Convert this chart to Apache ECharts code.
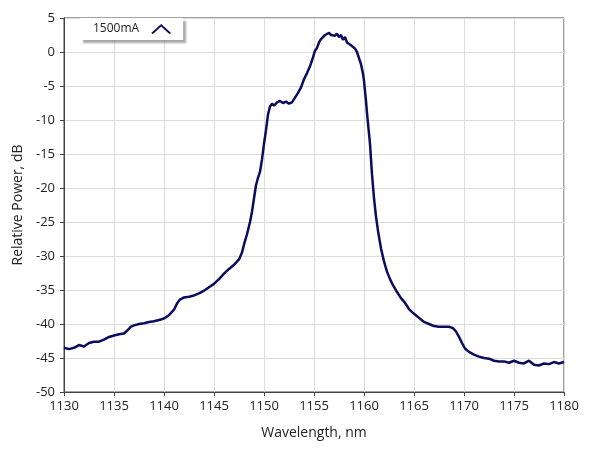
<!DOCTYPE html>
<html>
<head>
<meta charset="utf-8">
<script src="https://cdn.jsdelivr.net/npm/echarts@6/dist/echarts.min.js"></script>
<style>
html,body{margin:0;padding:0;background:#fff;}
#c{width:589px;height:456px;}
</style>
</head>
<body>
<div id="c"></div>
<script>
var seriesName = '1500mA';
var xTicks = {min: 1130, max: 1180, interval: 5};
var yTicks = {min: -50, max: 5, interval: 5};
var wavelength = [
1130.0,1130.5,1131.0,1131.5,1132.0,1132.5,1133.0,1133.5,1134.0,1134.5,
1135.0,1135.5,1136.0,1136.3,1136.7,1137.0,1137.5,1138.0,1138.5,1139.0,
1139.5,1140.0,1140.5,1141.0,1141.3,1141.6,1142.0,1142.5,1143.0,1143.5,
1144.0,1144.5,1145.0,1145.5,1146.0,1146.5,1147.0,1147.5,1147.8,1148.0,
1148.3,1148.6,1148.8,1149.0,1149.2,1149.4,1149.6,1149.8,1150.0,1150.2,
1150.4,1150.6,1150.8,1151.0,1151.3,1151.6,1151.9,1152.2,1152.5,1152.8,
1153.1,1153.4,1153.7,1154.0,1154.3,1154.6,1154.9,1155.1,1155.3,1155.5,
1155.7,1155.9,1156.1,1156.3,1156.5,1156.7,1156.9,1157.1,1157.3,1157.5,
1157.7,1157.9,1158.1,1158.3,1158.5,1158.7,1158.9,1159.1,1159.3,1159.5,
1159.7,1159.9,1160.0,1160.1,1160.2,1160.3,1160.4,1160.6,1160.8,1161.0,
1161.2,1161.4,1161.7,1162.0,1162.3,1162.6,1162.9,1163.3,1163.7,1164.1,
1164.5,1165.0,1165.5,1166.0,1166.5,1167.0,1167.5,1168.0,1168.5,1168.9,
1169.2,1169.5,1169.8,1170.1,1170.5,1171.0,1171.5,1172.0,1172.5,1173.0,
1173.5,1174.0,1174.5,1175.0,1175.5,1176.0,1176.5,1177.0,1177.5,1178.0,
1178.5,1179.0,1179.5,1180.0
];
var powerDb = [
-43.5,-43.7,-43.5,-43.1,-43.3,-42.8,-42.6,-42.6,-42.3,-41.9,
-41.7,-41.5,-41.4,-41.0,-40.4,-40.2,-40.0,-39.9,-39.7,-39.6,
-39.4,-39.2,-38.7,-37.9,-37.0,-36.4,-36.1,-36.0,-35.8,-35.5,
-35.1,-34.6,-34.1,-33.4,-32.6,-31.9,-31.3,-30.5,-29.5,-28.3,
-26.8,-25.0,-23.5,-21.5,-19.6,-18.5,-17.6,-15.8,-13.5,-11.5,
-9.2,-8.0,-7.6,-7.9,-7.4,-7.2,-7.5,-7.3,-7.6,-7.4,
-6.7,-6.0,-5.2,-4.0,-3.1,-2.1,-0.8,0.2,0.6,1.4,
1.9,2.2,2.5,2.4,2.8,2.5,2.7,2.4,2.7,2.2,
2.5,1.8,2.2,1.4,1.6,1.0,1.2,0.5,0.0,-0.9,
-1.8,-3.2,-4.2,-5.8,-7.2,-9.0,-10.5,-13.5,-18.0,-21.5,
-24.2,-26.3,-28.9,-30.8,-32.3,-33.4,-34.3,-35.3,-36.2,-36.9,
-37.8,-38.5,-39.1,-39.7,-40.0,-40.3,-40.4,-40.4,-40.4,-40.6,
-41.1,-41.9,-42.8,-43.6,-44.1,-44.5,-44.8,-45.0,-45.1,-45.4,
-45.5,-45.5,-45.7,-45.4,-45.7,-45.8,-45.4,-46.0,-46.1,-45.8,
-45.9,-45.6,-45.8,-45.6
];

var points = wavelength.map(function (w, i) { return [w, powerDb[i]]; });
var FONT = 'Open Sans';
var LINE = '#0c0c5e';
var chart = echarts.init(document.getElementById('c'), null, {renderer: 'canvas'});
chart.setOption({
  animation: false,
  backgroundColor: '#ffffff',
  textStyle: {fontFamily: FONT},
  grid: {left: 64, right: 25, top: 18, bottom: 64, show: true, borderColor: '#444', borderWidth: 1, backgroundColor: 'transparent'},
  legend: {
    data: [{name: seriesName, icon: 'path://M0,9 L10,0 L20,9 L18.2,10 L10,2.6 L1.8,10 Z'}],
    left: 80, top: 18,
    align: 'right',
    itemWidth: 22, itemHeight: 10,
    padding: [5, 12, 5, 13],
    backgroundColor: '#ffffff',
    shadowColor: 'rgba(0,0,0,0.35)',
    shadowBlur: 2,
    shadowOffsetX: 3,
    shadowOffsetY: 3,
    textStyle: {fontFamily: FONT, fontSize: 12, color: '#222', padding: [0, 6, 0, 0]},
    itemStyle: {color: LINE}
  },
  xAxis: {
    type: 'value',
    min: xTicks.min, max: xTicks.max, interval: xTicks.interval,
    name: 'Wavelength, nm', nameLocation: 'middle', nameGap: 34,
    nameTextStyle: {fontFamily: FONT, fontSize: 14, color: '#222'},
    axisLine: {show: true, onZero: false, lineStyle: {color: '#444', width: 1}},
    axisTick: {show: true, inside: false, length: 4, lineStyle: {color: '#444'}},
    axisLabel: {fontFamily: FONT, fontSize: 13, color: '#222', margin: 8,
      formatter: function (v) { return String(v); }},
    splitLine: {show: true, lineStyle: {color: '#dcdcdc', width: 1}}
  },
  yAxis: {
    type: 'value',
    min: yTicks.min, max: yTicks.max, interval: yTicks.interval,
    name: 'Relative Power, dB', nameLocation: 'middle', nameGap: 36,
    nameTextStyle: {fontFamily: FONT, fontSize: 14, color: '#222'},
    axisLine: {show: true, onZero: false, lineStyle: {color: '#444', width: 1}},
    axisTick: {show: true, inside: false, length: 4, lineStyle: {color: '#444'}},
    axisLabel: {fontFamily: FONT, fontSize: 13, color: '#222', margin: 9},
    splitLine: {show: true, lineStyle: {color: '#dcdcdc', width: 1}}
  },
  series: [{
    name: seriesName,
    type: 'line',
    data: points,
    showSymbol: false,
    symbol: 'none',
    smooth: false,
    lineStyle: {color: LINE, width: 2.5},
    itemStyle: {color: LINE}
  }]
});
</script>
</body>
</html>
